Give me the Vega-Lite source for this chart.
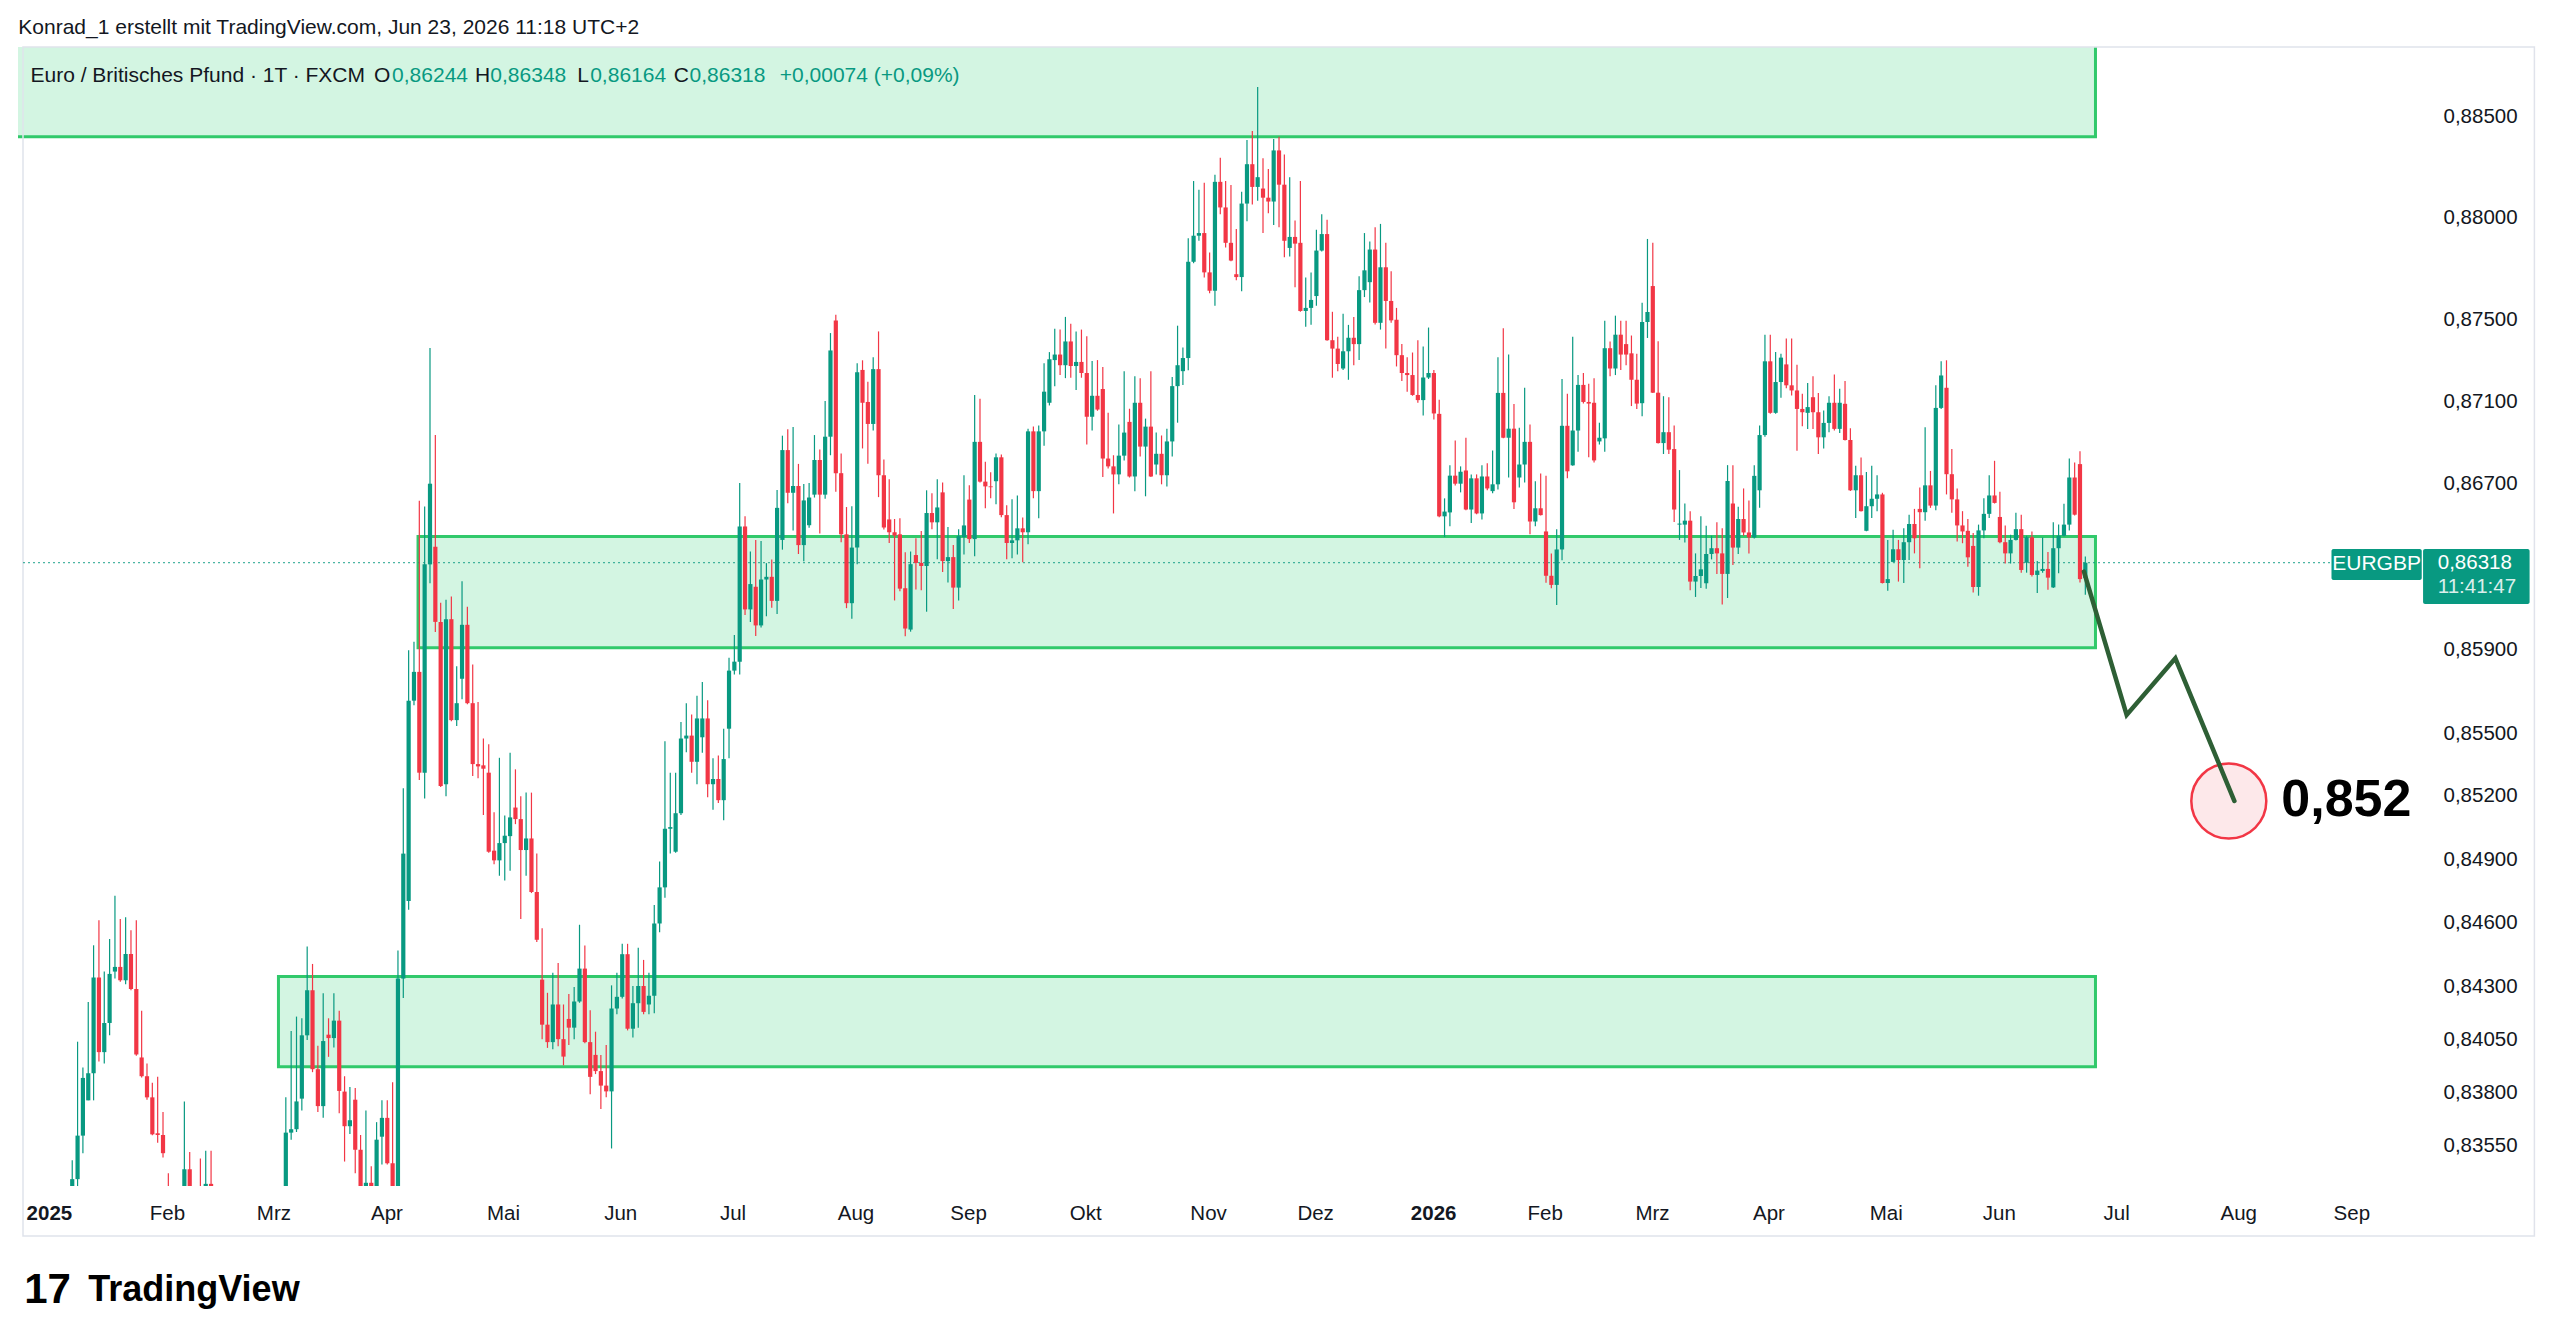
{
"$schema":"https://vega.github.io/schema/vega-lite/v6.json",
"width":2409,"height":1139,
"autosize":{"type":"none"},
"padding":{"left":18,"top":47,"right":133,"bottom":158},
"background":"#ffffff",
"config":{"view":{"stroke":null},"font":"Liberation Sans"},
"datasets":{
"one":[{}],
"zones":[{"t0":-10,"t1":382.9,"p0":0.88398,"p1":0.895},{"t0":68.76,"t1":382.9,"p0":0.85909,"p1":0.86444},{"t0":42.62,"t1":382.9,"p0":0.8392,"p1":0.84345}],
"path":[{"k":0,"t":380.74,"p":0.86275},{"k":1,"t":388.74,"p":0.85587},{"k":2,"t":397.86,"p":0.85858},{"k":3,"t":408.92,"p":0.85176}],
"candles":[
{"t":4,"o":0.8325,"h":0.83483,"l":0.832,"c":0.83395},
{"t":5,"o":0.83395,"h":0.84038,"l":0.83359,"c":0.83598},
{"t":6,"o":0.83598,"h":0.83917,"l":0.83516,"c":0.83868},
{"t":7,"o":0.83763,"h":0.84225,"l":0.83763,"c":0.8389},
{"t":8,"o":0.8389,"h":0.84492,"l":0.83763,"c":0.8434},
{"t":9,"o":0.8434,"h":0.8461,"l":0.83945,"c":0.83989},
{"t":10,"o":0.83989,"h":0.84368,"l":0.83936,"c":0.84126},
{"t":11,"o":0.84126,"h":0.84522,"l":0.84068,"c":0.84357},
{"t":12,"o":0.84368,"h":0.84726,"l":0.84335,"c":0.8439},
{"t":13,"o":0.8439,"h":0.84616,"l":0.8432,"c":0.84327},
{"t":14,"o":0.84327,"h":0.84624,"l":0.84308,"c":0.84451},
{"t":15,"o":0.84451,"h":0.84563,"l":0.8428,"c":0.84286},
{"t":16,"o":0.84286,"h":0.8461,"l":0.83972,"c":0.83978},
{"t":17,"o":0.83964,"h":0.84184,"l":0.8387,"c":0.83876},
{"t":18,"o":0.83876,"h":0.83936,"l":0.83766,"c":0.83777},
{"t":19,"o":0.83777,"h":0.83846,"l":0.836,"c":0.83604},
{"t":20,"o":0.83609,"h":0.83873,"l":0.83565,"c":0.83601},
{"t":21,"o":0.83601,"h":0.83708,"l":0.83496,"c":0.83516},
{"t":22,"o":0.833,"h":0.83422,"l":0.8315,"c":0.832},
{"t":25,"o":0.8328,"h":0.83758,"l":0.8325,"c":0.83441},
{"t":26,"o":0.83441,"h":0.83521,"l":0.8325,"c":0.833},
{"t":28,"o":0.8333,"h":0.83491,"l":0.832,"c":0.8325},
{"t":29,"o":0.833,"h":0.83527,"l":0.8325,"c":0.83373},
{"t":30,"o":0.83373,"h":0.83527,"l":0.8325,"c":0.833},
{"t":31,"o":0.833,"h":0.8336,"l":0.8325,"c":0.83338},
{"t":32,"o":0.83345,"h":0.8336,"l":0.8325,"c":0.833},
{"t":44,"o":0.833,"h":0.83777,"l":0.8325,"c":0.83612},
{"t":45,"o":0.83612,"h":0.84088,"l":0.83579,"c":0.83628},
{"t":46,"o":0.83628,"h":0.84156,"l":0.83615,"c":0.83758},
{"t":47,"o":0.83771,"h":0.84148,"l":0.83716,"c":0.84068},
{"t":48,"o":0.84068,"h":0.84486,"l":0.84046,"c":0.8428},
{"t":49,"o":0.8428,"h":0.84404,"l":0.83895,"c":0.83909},
{"t":50,"o":0.83909,"h":0.84019,"l":0.83708,"c":0.83736},
{"t":51,"o":0.83736,"h":0.84266,"l":0.83681,"c":0.84041},
{"t":52,"o":0.84071,"h":0.84148,"l":0.83967,"c":0.84055},
{"t":53,"o":0.84055,"h":0.84266,"l":0.84011,"c":0.84137},
{"t":54,"o":0.84137,"h":0.84184,"l":0.83703,"c":0.83807},
{"t":55,"o":0.83804,"h":0.83876,"l":0.83477,"c":0.83642},
{"t":56,"o":0.83642,"h":0.83826,"l":0.83606,"c":0.8367},
{"t":57,"o":0.83766,"h":0.83821,"l":0.83422,"c":0.83532},
{"t":58,"o":0.83532,"h":0.83601,"l":0.8325,"c":0.833},
{"t":59,"o":0.833,"h":0.83716,"l":0.8325,"c":0.83378},
{"t":60,"o":0.83378,"h":0.83455,"l":0.833,"c":0.83359},
{"t":61,"o":0.83359,"h":0.83661,"l":0.833,"c":0.83579},
{"t":62,"o":0.83593,"h":0.83763,"l":0.83463,"c":0.83681},
{"t":63,"o":0.83681,"h":0.83763,"l":0.83463,"c":0.83469},
{"t":64,"o":0.83469,"h":0.83848,"l":0.8325,"c":0.833},
{"t":65,"o":0.833,"h":0.84467,"l":0.8325,"c":0.84335},
{"t":66,"o":0.84335,"h":0.85237,"l":0.84244,"c":0.84926},
{"t":67,"o":0.84701,"h":0.85897,"l":0.8466,"c":0.85655},
{"t":68,"o":0.85655,"h":0.85938,"l":0.85633,"c":0.85793},
{"t":69,"o":0.85793,"h":0.86618,"l":0.85276,"c":0.85311},
{"t":70,"o":0.85311,"h":0.8659,"l":0.85188,"c":0.8631},
{"t":71,"o":0.8631,"h":0.8736,"l":0.86219,"c":0.867},
{"t":72,"o":0.86395,"h":0.86936,"l":0.85984,"c":0.86033},
{"t":73,"o":0.86033,"h":0.86125,"l":0.85243,"c":0.85248},
{"t":74,"o":0.85256,"h":0.86139,"l":0.85199,"c":0.86046},
{"t":75,"o":0.86046,"h":0.86155,"l":0.85556,"c":0.85562},
{"t":76,"o":0.85562,"h":0.8582,"l":0.85534,"c":0.85643},
{"t":77,"o":0.8576,"h":0.86229,"l":0.85662,"c":0.86019},
{"t":78,"o":0.86019,"h":0.86106,"l":0.85638,"c":0.85643},
{"t":79,"o":0.85643,"h":0.85828,"l":0.85295,"c":0.85352},
{"t":80,"o":0.85352,"h":0.85649,"l":0.85284,"c":0.85341},
{"t":81,"o":0.85346,"h":0.85474,"l":0.85109,"c":0.8533},
{"t":82,"o":0.85311,"h":0.85447,"l":0.8493,"c":0.84935},
{"t":83,"o":0.8494,"h":0.85123,"l":0.84875,"c":0.84894},
{"t":84,"o":0.84894,"h":0.85382,"l":0.84821,"c":0.84976},
{"t":85,"o":0.84976,"h":0.85107,"l":0.84799,"c":0.85011},
{"t":86,"o":0.85009,"h":0.85406,"l":0.84845,"c":0.85098},
{"t":87,"o":0.85145,"h":0.85327,"l":0.85066,"c":0.8509},
{"t":88,"o":0.8509,"h":0.85199,"l":0.84616,"c":0.84943},
{"t":89,"o":0.84943,"h":0.85216,"l":0.84821,"c":0.84998},
{"t":90,"o":0.84998,"h":0.85216,"l":0.84739,"c":0.84744},
{"t":91,"o":0.84744,"h":0.84927,"l":0.84507,"c":0.84518},
{"t":92,"o":0.8433,"h":0.84573,"l":0.8405,"c":0.84118},
{"t":93,"o":0.84118,"h":0.84268,"l":0.84009,"c":0.84036},
{"t":94,"o":0.84036,"h":0.84363,"l":0.84003,"c":0.84213},
{"t":95,"o":0.84213,"h":0.84409,"l":0.84017,"c":0.8405},
{"t":96,"o":0.8405,"h":0.84213,"l":0.83927,"c":0.83968},
{"t":97,"o":0.84145,"h":0.84262,"l":0.84023,"c":0.84104},
{"t":98,"o":0.84104,"h":0.84295,"l":0.8405,"c":0.84227},
{"t":99,"o":0.84227,"h":0.84589,"l":0.84221,"c":0.84382},
{"t":100,"o":0.84382,"h":0.84491,"l":0.84031,"c":0.84036},
{"t":101,"o":0.84036,"h":0.84186,"l":0.83791,"c":0.83873},
{"t":102,"o":0.83976,"h":0.84085,"l":0.83886,"c":0.839},
{"t":103,"o":0.839,"h":0.83976,"l":0.83723,"c":0.83832},
{"t":104,"o":0.83832,"h":0.84023,"l":0.83777,"c":0.83805},
{"t":105,"o":0.83805,"h":0.84303,"l":0.83538,"c":0.84194},
{"t":106,"o":0.84194,"h":0.84363,"l":0.84167,"c":0.84249},
{"t":107,"o":0.84249,"h":0.84499,"l":0.84241,"c":0.8445},
{"t":108,"o":0.8445,"h":0.84499,"l":0.84091,"c":0.84099},
{"t":109,"o":0.84099,"h":0.843,"l":0.84058,"c":0.84219},
{"t":110,"o":0.84219,"h":0.8448,"l":0.84104,"c":0.843},
{"t":111,"o":0.843,"h":0.84423,"l":0.84167,"c":0.84178},
{"t":112,"o":0.84213,"h":0.84363,"l":0.84167,"c":0.84254},
{"t":113,"o":0.84254,"h":0.84682,"l":0.84172,"c":0.84595},
{"t":114,"o":0.84595,"h":0.84889,"l":0.84554,"c":0.84766},
{"t":115,"o":0.84766,"h":0.85461,"l":0.84717,"c":0.85044},
{"t":116,"o":0.85044,"h":0.85311,"l":0.84927,"c":0.85052},
{"t":117,"o":0.84935,"h":0.85311,"l":0.8493,"c":0.85118},
{"t":118,"o":0.85118,"h":0.85553,"l":0.85109,"c":0.85474},
{"t":119,"o":0.85474,"h":0.85643,"l":0.85409,"c":0.85488},
{"t":120,"o":0.85488,"h":0.85589,"l":0.85311,"c":0.85363},
{"t":121,"o":0.85363,"h":0.85679,"l":0.85256,"c":0.8557},
{"t":122,"o":0.8548,"h":0.85744,"l":0.85406,"c":0.8557},
{"t":123,"o":0.8557,"h":0.85657,"l":0.85194,"c":0.85256},
{"t":124,"o":0.85256,"h":0.8538,"l":0.85134,"c":0.85281},
{"t":125,"o":0.85281,"h":0.85393,"l":0.85167,"c":0.8518},
{"t":126,"o":0.8518,"h":0.85521,"l":0.85085,"c":0.85376},
{"t":127,"o":0.85521,"h":0.85861,"l":0.8538,"c":0.85799},
{"t":128,"o":0.85799,"h":0.8597,"l":0.8578,"c":0.85842},
{"t":129,"o":0.85842,"h":0.86703,"l":0.8578,"c":0.86493},
{"t":130,"o":0.86493,"h":0.86543,"l":0.86066,"c":0.86093},
{"t":131,"o":0.86093,"h":0.86372,"l":0.86033,"c":0.86215},
{"t":132,"o":0.86202,"h":0.86428,"l":0.85965,"c":0.86016},
{"t":133,"o":0.86016,"h":0.86423,"l":0.86006,"c":0.86237},
{"t":134,"o":0.86237,"h":0.86316,"l":0.8606,"c":0.8625},
{"t":135,"o":0.8625,"h":0.86333,"l":0.86101,"c":0.86134},
{"t":136,"o":0.86134,"h":0.8667,"l":0.86071,"c":0.86583},
{"t":137,"o":0.86428,"h":0.86933,"l":0.86381,"c":0.86863},
{"t":138,"o":0.86863,"h":0.86964,"l":0.86605,"c":0.86656},
{"t":139,"o":0.86656,"h":0.86975,"l":0.86473,"c":0.86689},
{"t":140,"o":0.86689,"h":0.86796,"l":0.8636,"c":0.86403},
{"t":141,"o":0.86403,"h":0.86698,"l":0.86325,"c":0.86619},
{"t":142,"o":0.86499,"h":0.86703,"l":0.86487,"c":0.86633},
{"t":143,"o":0.86647,"h":0.86936,"l":0.86633,"c":0.86815},
{"t":144,"o":0.86815,"h":0.86866,"l":0.86459,"c":0.86647},
{"t":145,"o":0.86647,"h":0.87102,"l":0.86627,"c":0.86928},
{"t":146,"o":0.86928,"h":0.87433,"l":0.86838,"c":0.87348},
{"t":147,"o":0.87494,"h":0.87522,"l":0.86661,"c":0.86751},
{"t":148,"o":0.86751,"h":0.86847,"l":0.86417,"c":0.86455},
{"t":149,"o":0.86455,"h":0.86587,"l":0.86099,"c":0.86123},
{"t":150,"o":0.86123,"h":0.86591,"l":0.86048,"c":0.86391},
{"t":151,"o":0.86391,"h":0.87286,"l":0.86311,"c":0.87242},
{"t":152,"o":0.87253,"h":0.873,"l":0.86871,"c":0.87093},
{"t":153,"o":0.87097,"h":0.87195,"l":0.86797,"c":0.8699},
{"t":154,"o":0.8699,"h":0.87315,"l":0.86958,"c":0.87257},
{"t":155,"o":0.87257,"h":0.87441,"l":0.86635,"c":0.86741},
{"t":156,"o":0.86741,"h":0.86817,"l":0.86478,"c":0.86488},
{"t":157,"o":0.86527,"h":0.86722,"l":0.86413,"c":0.86465},
{"t":158,"o":0.86465,"h":0.86529,"l":0.86136,"c":0.86449},
{"t":159,"o":0.86455,"h":0.86533,"l":0.8618,"c":0.86193},
{"t":160,"o":0.86195,"h":0.86368,"l":0.85964,"c":0.86001},
{"t":161,"o":0.85996,"h":0.86372,"l":0.85986,"c":0.86311},
{"t":162,"o":0.86355,"h":0.86436,"l":0.86189,"c":0.86317},
{"t":163,"o":0.86317,"h":0.86471,"l":0.86185,"c":0.86302},
{"t":164,"o":0.86302,"h":0.86668,"l":0.86082,"c":0.86558},
{"t":165,"o":0.86558,"h":0.86654,"l":0.8648,"c":0.86513},
{"t":166,"o":0.86513,"h":0.86722,"l":0.86335,"c":0.86585},
{"t":167,"o":0.86658,"h":0.86706,"l":0.86273,"c":0.86326},
{"t":168,"o":0.86326,"h":0.8649,"l":0.86223,"c":0.86345},
{"t":169,"o":0.86345,"h":0.86403,"l":0.86095,"c":0.86198},
{"t":170,"o":0.86198,"h":0.8648,"l":0.86136,"c":0.86446},
{"t":171,"o":0.86442,"h":0.86741,"l":0.86358,"c":0.86498},
{"t":172,"o":0.86623,"h":0.86693,"l":0.86413,"c":0.86432},
{"t":173,"o":0.86432,"h":0.87131,"l":0.86349,"c":0.86903},
{"t":174,"o":0.86903,"h":0.87112,"l":0.86706,"c":0.8671},
{"t":175,"o":0.8671,"h":0.86807,"l":0.86581,"c":0.86687},
{"t":176,"o":0.86687,"h":0.86755,"l":0.86629,"c":0.86683},
{"t":177,"o":0.86712,"h":0.86847,"l":0.866,"c":0.86828},
{"t":178,"o":0.86828,"h":0.86842,"l":0.86538,"c":0.86548},
{"t":179,"o":0.86548,"h":0.86596,"l":0.86335,"c":0.86413},
{"t":180,"o":0.86413,"h":0.86625,"l":0.86339,"c":0.86426},
{"t":181,"o":0.86426,"h":0.86643,"l":0.86358,"c":0.86484},
{"t":182,"o":0.86484,"h":0.86536,"l":0.8632,"c":0.86465},
{"t":183,"o":0.86465,"h":0.86967,"l":0.86407,"c":0.86954},
{"t":184,"o":0.86954,"h":0.86977,"l":0.86629,"c":0.86664},
{"t":185,"o":0.86664,"h":0.86983,"l":0.86533,"c":0.86954},
{"t":186,"o":0.86954,"h":0.87286,"l":0.86884,"c":0.87147},
{"t":187,"o":0.87093,"h":0.8734,"l":0.8708,"c":0.87305},
{"t":188,"o":0.87301,"h":0.87454,"l":0.87174,"c":0.87328},
{"t":189,"o":0.87328,"h":0.8745,"l":0.87228,"c":0.87276},
{"t":190,"o":0.87276,"h":0.87512,"l":0.87213,"c":0.87392},
{"t":191,"o":0.87392,"h":0.87479,"l":0.87215,"c":0.87272},
{"t":192,"o":0.87272,"h":0.87441,"l":0.87155,"c":0.87292},
{"t":193,"o":0.87292,"h":0.8745,"l":0.87215,"c":0.87238},
{"t":194,"o":0.87238,"h":0.87417,"l":0.8689,"c":0.87025},
{"t":195,"o":0.87025,"h":0.87296,"l":0.86958,"c":0.87127},
{"t":196,"o":0.87127,"h":0.87301,"l":0.87054,"c":0.8706},
{"t":197,"o":0.8716,"h":0.87267,"l":0.86732,"c":0.86822},
{"t":198,"o":0.86822,"h":0.87044,"l":0.86774,"c":0.86784},
{"t":199,"o":0.86784,"h":0.86838,"l":0.86556,"c":0.86745},
{"t":200,"o":0.86745,"h":0.86987,"l":0.86697,"c":0.86836},
{"t":201,"o":0.86836,"h":0.87247,"l":0.86813,"c":0.86948},
{"t":202,"o":0.87,"h":0.87064,"l":0.8673,"c":0.86735},
{"t":203,"o":0.86735,"h":0.87222,"l":0.86664,"c":0.87093},
{"t":204,"o":0.87093,"h":0.87213,"l":0.86832,"c":0.8688},
{"t":205,"o":0.8688,"h":0.87016,"l":0.86639,"c":0.86977},
{"t":206,"o":0.86977,"h":0.87247,"l":0.86732,"c":0.86735},
{"t":207,"o":0.86793,"h":0.86948,"l":0.86745,"c":0.86845},
{"t":208,"o":0.86845,"h":0.86934,"l":0.86697,"c":0.86741},
{"t":209,"o":0.86741,"h":0.86967,"l":0.86687,"c":0.86905},
{"t":210,"o":0.86905,"h":0.87218,"l":0.86832,"c":0.87174},
{"t":211,"o":0.87174,"h":0.87469,"l":0.86996,"c":0.87276},
{"t":212,"o":0.87247,"h":0.87363,"l":0.8718,"c":0.87311},
{"t":213,"o":0.87311,"h":0.87898,"l":0.87251,"c":0.87782},
{"t":214,"o":0.87782,"h":0.88179,"l":0.87775,"c":0.8791},
{"t":215,"o":0.8791,"h":0.88136,"l":0.87885,"c":0.87923},
{"t":216,"o":0.87923,"h":0.88171,"l":0.87705,"c":0.8773},
{"t":217,"o":0.8773,"h":0.87827,"l":0.87628,"c":0.8764},
{"t":218,"o":0.8764,"h":0.8821,"l":0.87566,"c":0.88175},
{"t":219,"o":0.88175,"h":0.88294,"l":0.88016,"c":0.88049},
{"t":220,"o":0.88049,"h":0.88179,"l":0.87852,"c":0.87875},
{"t":221,"o":0.87875,"h":0.8816,"l":0.87784,"c":0.87788},
{"t":222,"o":0.87721,"h":0.87943,"l":0.87692,"c":0.87707},
{"t":223,"o":0.87707,"h":0.88126,"l":0.87638,"c":0.88068},
{"t":224,"o":0.88068,"h":0.88381,"l":0.87981,"c":0.88262},
{"t":225,"o":0.88262,"h":0.88426,"l":0.88063,"c":0.8815},
{"t":226,"o":0.8815,"h":0.88644,"l":0.88082,"c":0.88198},
{"t":227,"o":0.88142,"h":0.88291,"l":0.87923,"c":0.88097},
{"t":228,"o":0.88097,"h":0.88238,"l":0.8802,"c":0.88078},
{"t":229,"o":0.88078,"h":0.88387,"l":0.87962,"c":0.8833},
{"t":230,"o":0.8833,"h":0.88397,"l":0.87952,"c":0.88161},
{"t":231,"o":0.88161,"h":0.8831,"l":0.87804,"c":0.87885},
{"t":232,"o":0.8785,"h":0.88198,"l":0.87808,"c":0.87904},
{"t":233,"o":0.87904,"h":0.87985,"l":0.87657,"c":0.87871},
{"t":234,"o":0.87875,"h":0.88179,"l":0.87537,"c":0.87541},
{"t":235,"o":0.87541,"h":0.87705,"l":0.87464,"c":0.87556},
{"t":236,"o":0.87556,"h":0.8773,"l":0.87473,"c":0.87595},
{"t":237,"o":0.87614,"h":0.87939,"l":0.87566,"c":0.87837},
{"t":238,"o":0.87837,"h":0.88016,"l":0.87833,"c":0.87918},
{"t":239,"o":0.87918,"h":0.87989,"l":0.87396,"c":0.87398},
{"t":240,"o":0.87398,"h":0.87537,"l":0.87215,"c":0.87357},
{"t":241,"o":0.87357,"h":0.87415,"l":0.87247,"c":0.87282},
{"t":242,"o":0.8726,"h":0.87527,"l":0.87253,"c":0.87344},
{"t":243,"o":0.87344,"h":0.87473,"l":0.87205,"c":0.8741},
{"t":244,"o":0.8741,"h":0.87512,"l":0.87276,"c":0.87379},
{"t":245,"o":0.87379,"h":0.87711,"l":0.87301,"c":0.87643},
{"t":246,"o":0.87643,"h":0.87923,"l":0.87609,"c":0.8774},
{"t":247,"o":0.87682,"h":0.87881,"l":0.87582,"c":0.87842},
{"t":248,"o":0.87842,"h":0.87952,"l":0.87475,"c":0.87483},
{"t":249,"o":0.87483,"h":0.87968,"l":0.8745,"c":0.87755},
{"t":250,"o":0.87755,"h":0.87875,"l":0.87357,"c":0.8759},
{"t":251,"o":0.8759,"h":0.87736,"l":0.87483,"c":0.87495},
{"t":252,"o":0.87498,"h":0.87556,"l":0.8727,"c":0.87325},
{"t":253,"o":0.87325,"h":0.87379,"l":0.87199,"c":0.87238},
{"t":254,"o":0.87238,"h":0.87315,"l":0.87147,"c":0.87228},
{"t":255,"o":0.87228,"h":0.87338,"l":0.87127,"c":0.87131},
{"t":256,"o":0.87131,"h":0.87398,"l":0.87093,"c":0.87106},
{"t":257,"o":0.87106,"h":0.87367,"l":0.87031,"c":0.87216},
{"t":258,"o":0.87216,"h":0.8746,"l":0.87209,"c":0.87238},
{"t":259,"o":0.87238,"h":0.87253,"l":0.87012,"c":0.87041},
{"t":260,"o":0.87039,"h":0.87108,"l":0.86538,"c":0.86542},
{"t":261,"o":0.86542,"h":0.86629,"l":0.86442,"c":0.86565},
{"t":262,"o":0.86561,"h":0.86789,"l":0.86494,"c":0.86739},
{"t":263,"o":0.86739,"h":0.8691,"l":0.86691,"c":0.867},
{"t":264,"o":0.867,"h":0.86784,"l":0.86658,"c":0.86758},
{"t":265,"o":0.86764,"h":0.86923,"l":0.86571,"c":0.86575},
{"t":266,"o":0.86575,"h":0.86745,"l":0.8651,"c":0.86726},
{"t":267,"o":0.86726,"h":0.86745,"l":0.86552,"c":0.86556},
{"t":268,"o":0.86556,"h":0.86789,"l":0.86527,"c":0.86735},
{"t":269,"o":0.86735,"h":0.86799,"l":0.86668,"c":0.86677},
{"t":270,"o":0.86664,"h":0.86861,"l":0.86654,"c":0.86697},
{"t":271,"o":0.86697,"h":0.87315,"l":0.86672,"c":0.87141},
{"t":272,"o":0.87141,"h":0.87456,"l":0.8692,"c":0.86923},
{"t":273,"o":0.86923,"h":0.87328,"l":0.8673,"c":0.86967},
{"t":274,"o":0.86967,"h":0.87087,"l":0.86577,"c":0.8661},
{"t":275,"o":0.8673,"h":0.86971,"l":0.86681,"c":0.86793},
{"t":276,"o":0.86793,"h":0.87166,"l":0.86706,"c":0.86903},
{"t":277,"o":0.86903,"h":0.86987,"l":0.86455,"c":0.86517},
{"t":278,"o":0.86517,"h":0.86712,"l":0.86494,"c":0.86581},
{"t":279,"o":0.86581,"h":0.86749,"l":0.86546,"c":0.86548},
{"t":280,"o":0.86469,"h":0.86739,"l":0.86221,"c":0.86255},
{"t":281,"o":0.86255,"h":0.86363,"l":0.86195,"c":0.86211},
{"t":282,"o":0.86211,"h":0.8648,"l":0.86114,"c":0.86382},
{"t":283,"o":0.86382,"h":0.87209,"l":0.8633,"c":0.86981},
{"t":284,"o":0.86981,"h":0.87137,"l":0.86726,"c":0.8676},
{"t":285,"o":0.86789,"h":0.87415,"l":0.86787,"c":0.86958},
{"t":286,"o":0.86958,"h":0.87228,"l":0.86855,"c":0.8718},
{"t":287,"o":0.8718,"h":0.87238,"l":0.87089,"c":0.87097},
{"t":288,"o":0.87097,"h":0.87186,"l":0.86828,"c":0.87089},
{"t":289,"o":0.87093,"h":0.87213,"l":0.86803,"c":0.86813},
{"t":290,"o":0.86905,"h":0.86996,"l":0.8689,"c":0.86923},
{"t":291,"o":0.8692,"h":0.87493,"l":0.86855,"c":0.87359},
{"t":292,"o":0.87359,"h":0.87392,"l":0.87222,"c":0.8726},
{"t":293,"o":0.8726,"h":0.87518,"l":0.87228,"c":0.87425},
{"t":294,"o":0.87425,"h":0.87493,"l":0.87253,"c":0.87328},
{"t":295,"o":0.87379,"h":0.87493,"l":0.87276,"c":0.87328},
{"t":296,"o":0.87334,"h":0.87421,"l":0.87077,"c":0.87205},
{"t":297,"o":0.87205,"h":0.87332,"l":0.87063,"c":0.87089},
{"t":298,"o":0.87091,"h":0.87581,"l":0.87028,"c":0.87487},
{"t":299,"o":0.87487,"h":0.87894,"l":0.87409,"c":0.87536},
{"t":300,"o":0.87663,"h":0.87875,"l":0.8714,"c":0.87142},
{"t":301,"o":0.87142,"h":0.87393,"l":0.86895,"c":0.86897},
{"t":302,"o":0.86897,"h":0.87125,"l":0.86844,"c":0.8695},
{"t":303,"o":0.8695,"h":0.8712,"l":0.86844,"c":0.86865},
{"t":304,"o":0.86868,"h":0.86982,"l":0.86515,"c":0.86575},
{"t":305,"o":0.86502,"h":0.86766,"l":0.86428,"c":0.86507},
{"t":306,"o":0.86502,"h":0.86604,"l":0.86415,"c":0.86521},
{"t":307,"o":0.86521,"h":0.86567,"l":0.86185,"c":0.86227},
{"t":308,"o":0.86227,"h":0.86363,"l":0.86153,"c":0.86254},
{"t":309,"o":0.86254,"h":0.86542,"l":0.86196,"c":0.86286},
{"t":310,"o":0.86219,"h":0.86497,"l":0.86193,"c":0.8636},
{"t":311,"o":0.8636,"h":0.86448,"l":0.86334,"c":0.86388},
{"t":312,"o":0.86388,"h":0.86513,"l":0.86264,"c":0.86363},
{"t":313,"o":0.86363,"h":0.86485,"l":0.86117,"c":0.86264},
{"t":314,"o":0.86264,"h":0.8679,"l":0.86148,"c":0.86713},
{"t":315,"o":0.86604,"h":0.8679,"l":0.86307,"c":0.86391},
{"t":316,"o":0.86391,"h":0.86588,"l":0.8636,"c":0.86529},
{"t":317,"o":0.86529,"h":0.86677,"l":0.86448,"c":0.86464},
{"t":318,"o":0.86464,"h":0.86619,"l":0.86363,"c":0.8644},
{"t":319,"o":0.8644,"h":0.8679,"l":0.86435,"c":0.86738},
{"t":320,"o":0.86668,"h":0.86982,"l":0.86583,"c":0.86936},
{"t":321,"o":0.86936,"h":0.87425,"l":0.86928,"c":0.87295},
{"t":322,"o":0.87295,"h":0.87425,"l":0.87039,"c":0.87044},
{"t":323,"o":0.87044,"h":0.8734,"l":0.87039,"c":0.87194},
{"t":324,"o":0.87194,"h":0.87332,"l":0.87117,"c":0.87313},
{"t":325,"o":0.8728,"h":0.87406,"l":0.87164,"c":0.87178},
{"t":326,"o":0.87178,"h":0.87406,"l":0.87129,"c":0.87153},
{"t":327,"o":0.87153,"h":0.87278,"l":0.8686,"c":0.87063},
{"t":328,"o":0.87063,"h":0.87137,"l":0.86979,"c":0.87047},
{"t":329,"o":0.87044,"h":0.87189,"l":0.86966,"c":0.87072},
{"t":330,"o":0.8712,"h":0.87222,"l":0.86966,"c":0.87047},
{"t":331,"o":0.87047,"h":0.8714,"l":0.86844,"c":0.86925},
{"t":332,"o":0.86925,"h":0.87055,"l":0.86871,"c":0.86995},
{"t":333,"o":0.86995,"h":0.87125,"l":0.8695,"c":0.87093},
{"t":334,"o":0.87093,"h":0.87231,"l":0.86958,"c":0.86966},
{"t":335,"o":0.86966,"h":0.87161,"l":0.86946,"c":0.87093},
{"t":336,"o":0.87088,"h":0.87199,"l":0.8691,"c":0.86912},
{"t":337,"o":0.86912,"h":0.86969,"l":0.86665,"c":0.86668},
{"t":338,"o":0.86668,"h":0.86787,"l":0.86534,"c":0.86741},
{"t":339,"o":0.86741,"h":0.86827,"l":0.86565,"c":0.86567},
{"t":340,"o":0.86472,"h":0.86757,"l":0.8647,"c":0.86591},
{"t":341,"o":0.86591,"h":0.86787,"l":0.86534,"c":0.86627},
{"t":342,"o":0.86627,"h":0.86741,"l":0.86567,"c":0.86648},
{"t":343,"o":0.86648,"h":0.86656,"l":0.86218,"c":0.8622},
{"t":344,"o":0.8622,"h":0.86428,"l":0.86183,"c":0.86239},
{"t":345,"o":0.86322,"h":0.86477,"l":0.8632,"c":0.86383},
{"t":346,"o":0.86383,"h":0.86428,"l":0.86227,"c":0.86331},
{"t":347,"o":0.86331,"h":0.86485,"l":0.8622,"c":0.86417},
{"t":348,"o":0.86417,"h":0.8655,"l":0.86331,"c":0.86505},
{"t":349,"o":0.86505,"h":0.86578,"l":0.86363,"c":0.86436},
{"t":350,"o":0.86578,"h":0.86681,"l":0.86291,"c":0.86562},
{"t":351,"o":0.86562,"h":0.86974,"l":0.86521,"c":0.86692},
{"t":352,"o":0.86692,"h":0.86762,"l":0.86583,"c":0.86594},
{"t":353,"o":0.86594,"h":0.87178,"l":0.86572,"c":0.87068},
{"t":354,"o":0.87068,"h":0.87295,"l":0.87063,"c":0.87226},
{"t":355,"o":0.87166,"h":0.873,"l":0.86648,"c":0.86746},
{"t":356,"o":0.86746,"h":0.86868,"l":0.86559,"c":0.86624},
{"t":357,"o":0.86624,"h":0.86677,"l":0.8642,"c":0.86498},
{"t":358,"o":0.86498,"h":0.86567,"l":0.86412,"c":0.86469},
{"t":359,"o":0.86472,"h":0.86529,"l":0.86299,"c":0.86344},
{"t":360,"o":0.86399,"h":0.86461,"l":0.86175,"c":0.86201},
{"t":361,"o":0.86201,"h":0.86502,"l":0.86159,"c":0.86474},
{"t":362,"o":0.86474,"h":0.86629,"l":0.86436,"c":0.86554},
{"t":363,"o":0.86554,"h":0.86741,"l":0.86534,"c":0.86643},
{"t":364,"o":0.86643,"h":0.86811,"l":0.86604,"c":0.86607},
{"t":365,"o":0.86539,"h":0.86661,"l":0.86412,"c":0.86417},
{"t":366,"o":0.86417,"h":0.86498,"l":0.86314,"c":0.86363},
{"t":367,"o":0.86363,"h":0.86453,"l":0.86314,"c":0.86428},
{"t":368,"o":0.86428,"h":0.86559,"l":0.86425,"c":0.8648},
{"t":369,"o":0.8648,"h":0.8655,"l":0.8627,"c":0.86283},
{"t":370,"o":0.86318,"h":0.86448,"l":0.8627,"c":0.86441},
{"t":371,"o":0.86441,"h":0.86469,"l":0.86251,"c":0.86259},
{"t":372,"o":0.86259,"h":0.86326,"l":0.86172,"c":0.8628},
{"t":373,"o":0.86278,"h":0.8644,"l":0.8627,"c":0.86288},
{"t":374,"o":0.86288,"h":0.8637,"l":0.86188,"c":0.86246},
{"t":375,"o":0.86199,"h":0.86513,"l":0.86196,"c":0.86388},
{"t":376,"o":0.86388,"h":0.86502,"l":0.86267,"c":0.86448},
{"t":377,"o":0.86448,"h":0.86603,"l":0.86445,"c":0.86502},
{"t":378,"o":0.86502,"h":0.86822,"l":0.86474,"c":0.8673},
{"t":379,"o":0.8673,"h":0.86803,"l":0.86546,"c":0.8655},
{"t":380,"o":0.86795,"h":0.86857,"l":0.86223,"c":0.86239},
{"t":381,"o":0.86244,"h":0.86348,"l":0.86164,"c":0.86318}
]},
"layer":[
{"data":{"name":"zones"},"mark":{"type":"rect","fill":"#d3f5e2","stroke":"#31c96b","strokeWidth":3,"clip":true},
 "encoding":{
  "x":{"field":"t0","type":"quantitative","scale":{"domain":[-5.22,444.05],"nice":false,"zero":false},
   "axis":{"title":null,"grid":false,"ticks":false,"domain":false,"labelPadding":27,"labelBaseline":"middle","labelFlush":false,"labelOverlap":false,"labelFont":"Liberation Sans","labelFontSize":20.5,"labelColor":"#131722",
    "values":[-0.37,21.73,41.68,62.85,84.67,106.62,127.66,150.69,171.77,193.7,216.71,236.76,258.86,279.75,299.85,321.65,343.62,364.79,386.76,409.64,430.81],
    "labelExpr":"datum.value < 10 ? '2025' : datum.value < 30 ? 'Feb' : datum.value < 50 ? 'Mrz' : datum.value < 70 ? 'Apr' : datum.value < 95 ? 'Mai' : datum.value < 115 ? 'Jun' : datum.value < 140 ? 'Jul' : datum.value < 160 ? 'Aug' : datum.value < 180 ? 'Sep' : datum.value < 205 ? 'Okt' : datum.value < 225 ? 'Nov' : datum.value < 245 ? 'Dez' : datum.value < 270 ? '2026' : datum.value < 290 ? 'Feb' : datum.value < 310 ? 'Mrz' : datum.value < 330 ? 'Apr' : datum.value < 355 ? 'Mai' : datum.value < 375 ? 'Jun' : datum.value < 398 ? 'Jul' : datum.value < 420 ? 'Aug' : 'Sep'",
    "labelFontWeight":{"condition":{"test":"datum.value < 5 || (datum.value > 250 && datum.value < 265)","value":"bold"},"value":"normal"}}},
  "x2":{"field":"t1"},
  "y":{"field":"p0","type":"quantitative","scale":{"type":"log","domain":[0.83363,0.88842],"nice":false,"zero":false},
   "axis":{"orient":"right","title":null,"grid":false,"ticks":false,"domain":false,"labelPadding":16,"labelAlign":"left","labelBaseline":"middle","labelFont":"Liberation Sans","labelFontSize":20.5,"labelColor":"#131722",
    "values":[0.885,0.88,0.875,0.871,0.867,0.859,0.855,0.852,0.849,0.846,0.843,0.8405,0.838,0.8355],
    "labelExpr":"replace(format(datum.value, '.5f'), '.', ',')"}},
  "y2":{"field":"p1"}}},
{"data":{"name":"one"},"mark":{"type":"rect","fillOpacity":0,"stroke":"#e0e3eb","strokeWidth":1.5},
 "encoding":{"x":{"datum":-5.22,"type":"quantitative"},"x2":{"datum":465.1},
 "y":{"datum":0.88842,"type":"quantitative"},"y2":{"datum":0.8313}}},
{"data":{"name":"one"},"mark":{"type":"rule","stroke":"#089981","strokeWidth":1,"strokeDash":[2,3],"opacity":0.9,"clip":true},
 "encoding":{"x":{"datum":-5.22,"type":"quantitative"},"x2":{"datum":427.1},
 "y":{"datum":0.86318,"type":"quantitative"}}},
{"data":{"name":"candles"},"mark":{"type":"rule","strokeWidth":1.2,"clip":true},
 "encoding":{
  "x":{"field":"t","type":"quantitative"},
  "y":{"field":"l","type":"quantitative"},
  "y2":{"field":"h"},
  "color":{"condition":{"test":"datum.c >= datum.o","value":"#089981"},"value":"#f23645"}}},
{"data":{"name":"candles"},"mark":{"type":"bar","size":4.2,"clip":true},
 "encoding":{"x":{"field":"t","type":"quantitative"},
  "y":{"field":"o","type":"quantitative"},"y2":{"field":"c"},
  "color":{"condition":{"test":"datum.c >= datum.o","value":"#089981"},"value":"#f23645"}}},
{"data":{"name":"one"},"mark":{"type":"point","shape":"circle","filled":true,"size":5625,"fill":"#fde8ea","stroke":"#f23645","strokeWidth":2.5,"opacity":1},
 "encoding":{"x":{"datum":407.87,"type":"quantitative"},
  "y":{"datum":0.85176,"type":"quantitative"}}},
{"data":{"name":"path"},"mark":{"type":"line","color":"#2e5f35","strokeWidth":4.5,"strokeCap":"round","strokeJoin":"miter"},
 "encoding":{"x":{"field":"t","type":"quantitative"},
  "y":{"field":"p","type":"quantitative"},
  "order":{"field":"k"}}},
{"data":{"name":"one"},"mark":{"type":"text","text":"0,852","align":"left","baseline":"middle","font":"Liberation Sans","fontSize":52,"fontWeight":"bold","color":"#000000"},
 "encoding":{"x":{"datum":417.7,"type":"quantitative"},
  "y":{"datum":0.85181,"type":"quantitative"}}},
{"data":{"name":"one"},"mark":{"type":"rect","fill":"#089981","cornerRadius":2},
 "encoding":{"x":{"datum":427.1,"type":"quantitative"},"x2":{"datum":444.0},
  "y":{"datum":0.86384,"type":"quantitative"},"y2":{"datum":0.86235}}},
{"data":{"name":"one"},"mark":{"type":"text","text":"EURGBP","align":"center","baseline":"middle","font":"Liberation Sans","fontSize":21,"color":"#ffffff"},
 "encoding":{"x":{"datum":435.55,"type":"quantitative"},
  "y":{"datum":0.8631,"type":"quantitative"}}},
{"data":{"name":"one"},"mark":{"type":"rect","fill":"#089981","cornerRadius":2},
 "encoding":{"x":{"datum":444.25,"type":"quantitative"},"x2":{"datum":464.2},
  "y":{"datum":0.86384,"type":"quantitative"},"y2":{"datum":0.86119}}},
{"data":{"name":"one"},"mark":{"type":"text","text":"0,86318","align":"left","baseline":"middle","font":"Liberation Sans","fontSize":20.5,"color":"#ffffff"},
 "encoding":{"x":{"datum":447.0,"type":"quantitative"},
  "y":{"datum":0.86317,"type":"quantitative"}}},
{"data":{"name":"one"},"mark":{"type":"text","text":"11:41:47","align":"left","baseline":"middle","font":"Liberation Sans","fontSize":20.5,"color":"#ffffff","opacity":0.85},
 "encoding":{"x":{"datum":447.0,"type":"quantitative"},
  "y":{"datum":0.86201,"type":"quantitative"}}},
{"data":{"name":"one"},"mark":{"type":"text","text":"Konrad_1 erstellt mit TradingView.com, Jun 23, 2026 11:18 UTC+2","align":"left","baseline":"middle","font":"Liberation Sans","fontSize":21,"color":"#131722"},
 "encoding":{"x":{"datum":-6.1,"type":"quantitative"},
  "y":{"datum":0.88936,"type":"quantitative"}}},
{"data":{"name":"one"},"mark":{"type":"text","text":"Euro / Britisches Pfund · 1T · FXCM","align":"left","baseline":"middle","font":"Liberation Sans","fontSize":21,"color":"#131722"},
 "encoding":{"x":{"datum":-3.82,"type":"quantitative"},
  "y":{"datum":0.88698,"type":"quantitative"}}},
{"data":{"name":"one"},"mark":{"type":"text","text":"O","align":"left","baseline":"middle","font":"Liberation Sans","fontSize":21,"color":"#131722"},
 "encoding":{"x":{"datum":60.52,"type":"quantitative"},
  "y":{"datum":0.88698,"type":"quantitative"}}},
{"data":{"name":"one"},"mark":{"type":"text","text":"0,86244","align":"left","baseline":"middle","font":"Liberation Sans","fontSize":21,"color":"#089981"},
 "encoding":{"x":{"datum":63.9,"type":"quantitative"},
  "y":{"datum":0.88698,"type":"quantitative"}}},
{"data":{"name":"one"},"mark":{"type":"text","text":"H","align":"left","baseline":"middle","font":"Liberation Sans","fontSize":21,"color":"#131722"},
 "encoding":{"x":{"datum":79.45,"type":"quantitative"},
  "y":{"datum":0.88698,"type":"quantitative"}}},
{"data":{"name":"one"},"mark":{"type":"text","text":"0,86348","align":"left","baseline":"middle","font":"Liberation Sans","fontSize":21,"color":"#089981"},
 "encoding":{"x":{"datum":82.3,"type":"quantitative"},
  "y":{"datum":0.88698,"type":"quantitative"}}},
{"data":{"name":"one"},"mark":{"type":"text","text":"L","align":"left","baseline":"middle","font":"Liberation Sans","fontSize":21,"color":"#131722"},
 "encoding":{"x":{"datum":98.58,"type":"quantitative"},
  "y":{"datum":0.88698,"type":"quantitative"}}},
{"data":{"name":"one"},"mark":{"type":"text","text":"0,86164","align":"left","baseline":"middle","font":"Liberation Sans","fontSize":21,"color":"#089981"},
 "encoding":{"x":{"datum":101.0,"type":"quantitative"},
  "y":{"datum":0.88698,"type":"quantitative"}}},
{"data":{"name":"one"},"mark":{"type":"text","text":"C","align":"left","baseline":"middle","font":"Liberation Sans","fontSize":21,"color":"#131722"},
 "encoding":{"x":{"datum":116.65,"type":"quantitative"},
  "y":{"datum":0.88698,"type":"quantitative"}}},
{"data":{"name":"one"},"mark":{"type":"text","text":"0,86318","align":"left","baseline":"middle","font":"Liberation Sans","fontSize":21,"color":"#089981"},
 "encoding":{"x":{"datum":119.6,"type":"quantitative"},
  "y":{"datum":0.88698,"type":"quantitative"}}},
{"data":{"name":"one"},"mark":{"type":"text","text":"+0,00074 (+0,09%)","align":"left","baseline":"middle","font":"Liberation Sans","fontSize":21,"color":"#089981"},
 "encoding":{"x":{"datum":136.5,"type":"quantitative"},
  "y":{"datum":0.88698,"type":"quantitative"}}},
{"data":{"name":"one"},"mark":{"type":"text","text":"17","align":"left","baseline":"middle","font":"Liberation Sans","fontSize":42,"fontWeight":"bold","color":"#000000"},
 "encoding":{"x":{"datum":-5.0,"type":"quantitative"},
  "y":{"datum":0.8288,"type":"quantitative"}}},
{"data":{"name":"one"},"mark":{"type":"text","text":"TradingView","align":"left","baseline":"middle","font":"Liberation Sans","fontSize":36,"fontWeight":"bold","color":"#000000"},
 "encoding":{"x":{"datum":7.0,"type":"quantitative"},
  "y":{"datum":0.8288,"type":"quantitative"}}}
]
}
